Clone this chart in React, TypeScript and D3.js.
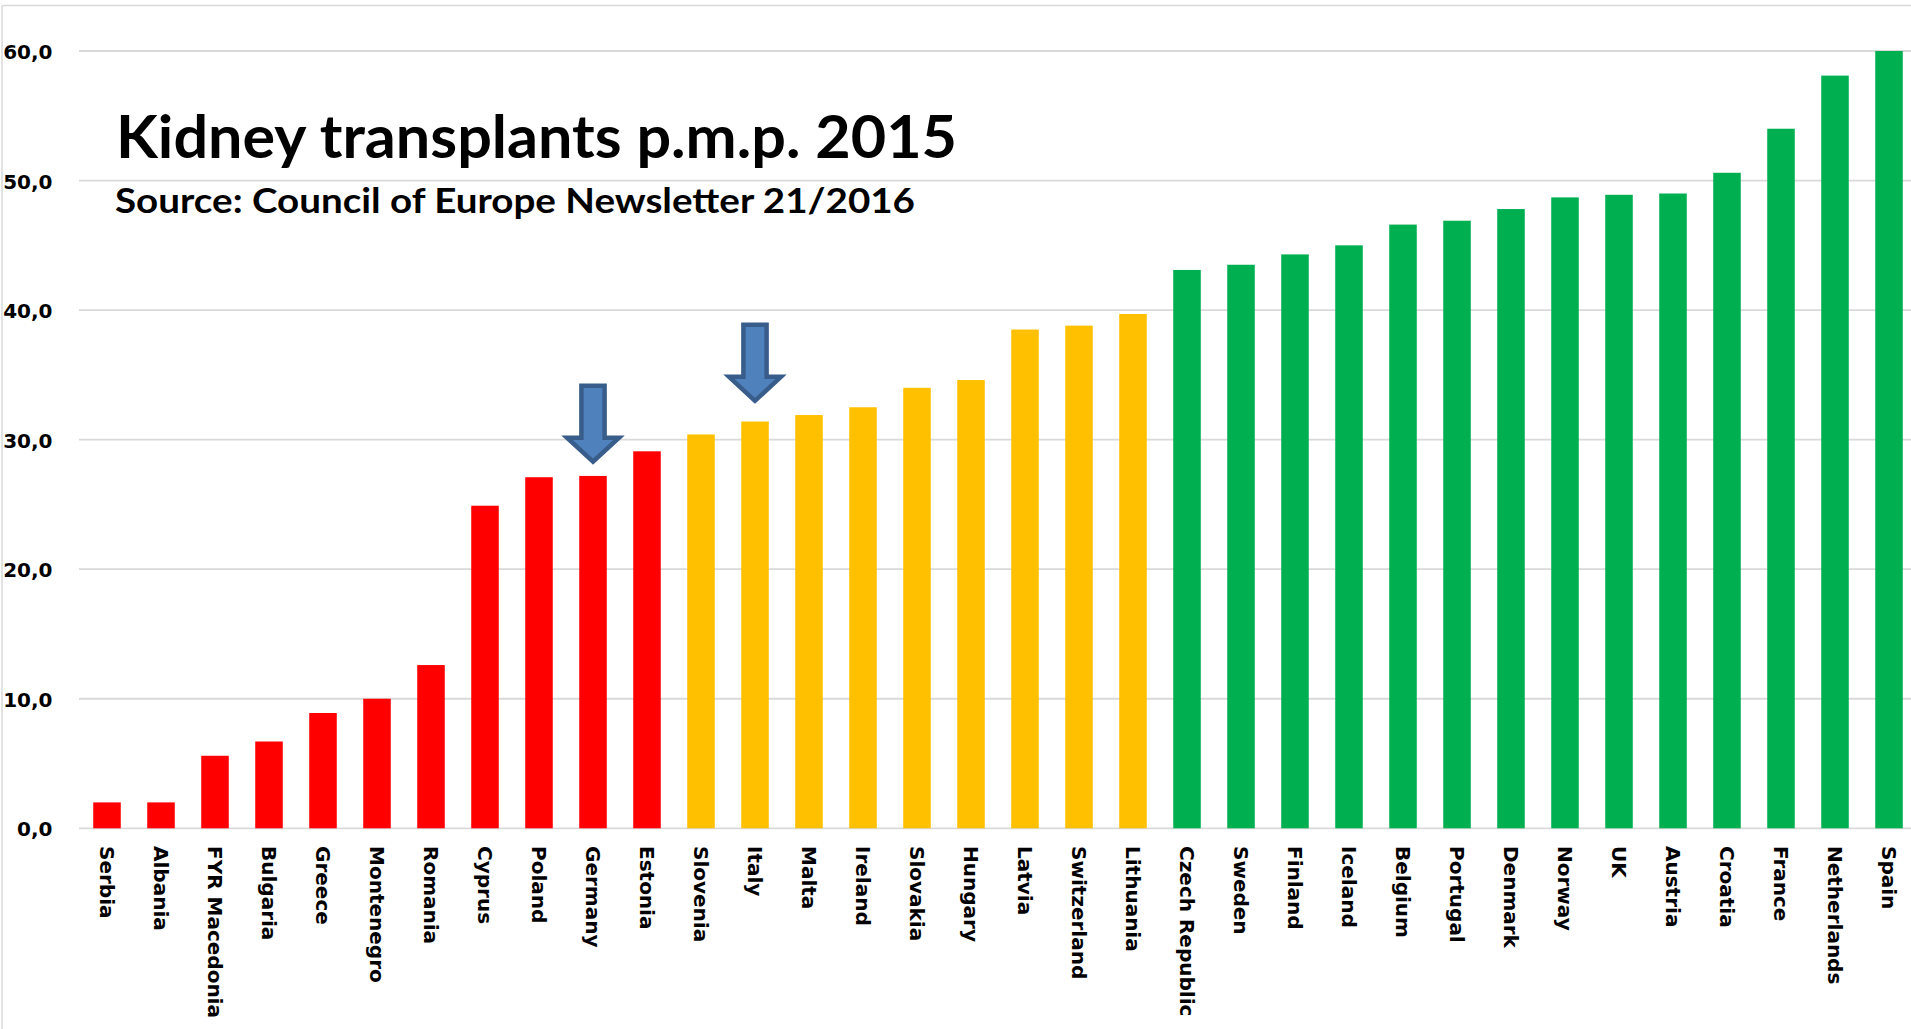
import React from "react";
import * as d3 from "d3";

const countries = [
  "Serbia", "Albania", "FYR Macedonia", "Bulgaria", "Greece", "Montenegro", "Romania",
  "Cyprus", "Poland", "Germany", "Estonia",
  "Slovenia", "Italy", "Malta", "Ireland", "Slovakia", "Hungary", "Latvia", "Switzerland", "Lithuania",
  "Czech Republic", "Sweden", "Finland", "Iceland", "Belgium", "Portugal", "Denmark", "Norway",
  "UK", "Austria", "Croatia", "France", "Netherlands", "Spain",
];

const values = [
  2.0, 2.0, 5.6, 6.7, 8.9, 10.0, 12.6,
  24.9, 27.1, 27.2, 29.1,
  30.4, 31.4, 31.9, 32.5, 34.0, 34.6, 38.5, 38.8, 39.7,
  43.1, 43.5, 44.3, 45.0, 46.6, 46.9, 47.8, 48.7,
  48.9, 49.0, 50.6, 54.0, 58.1, 60.0,
];

const tiers = [
  "low", "low", "low", "low", "low", "low", "low", "low", "low", "low", "low",
  "mid", "mid", "mid", "mid", "mid", "mid", "mid", "mid", "mid",
  "high", "high", "high", "high", "high", "high", "high", "high", "high", "high", "high", "high", "high", "high",
];

const tierColors: Record<string, string> = { low: "#FF0000", mid: "#FFC000", high: "#00B050" };

const yTicks = [0, 10, 20, 30, 40, 50, 60];

const arrowCountries = ["Germany", "Italy"];
const arrowTipValues = [28.3, 33.0];

const title = "Kidney transplants p.m.p. 2015";
const subtitle = "Source: Council of Europe Newsletter 21/2016";

const W = 1911;
const H = 1029;

export default function App() {
  const x = d3.scaleBand<string>().domain(countries).range([80, 1916]).paddingInner(0.49).paddingOuter(0.245);
  const y = d3.scaleLinear().domain([0, 60]).range([828.3, 51]);
  const fmt = (v: number) => d3.format(".1f")(v).replace(".", ",");

  const arrowPath = (cx: number, t: number) => {
    const p = d3.path();
    p.moveTo(cx, t);
    p.lineTo(cx - 26, t - 24);
    p.lineTo(cx - 11.6, t - 24);
    p.lineTo(cx - 11.6, t - 76);
    p.lineTo(cx + 11.6, t - 76);
    p.lineTo(cx + 11.6, t - 24);
    p.lineTo(cx + 26, t - 24);
    p.closePath();
    return p.toString();
  };

  return (
    <svg
      width={W}
      height={H}
      style={{ position: "absolute", left: 0, top: 0, background: "#fff" }}
    >
      <rect x={0} y={0} width={W} height={H} fill="#fff" />
      {/* chart border */}
      <line x1={2} x2={W} y1={5.5} y2={5.5} stroke="#D9D9D9" strokeWidth={1.5} />
      <line x1={2} x2={2} y1={5.5} y2={H} stroke="#D9D9D9" strokeWidth={1.5} />

      {/* gridlines */}
      {yTicks.map((t) => (
        <line key={"g" + t} x1={79} x2={W} y1={y(t)} y2={y(t)} stroke="#D9D9D9" strokeWidth={1.8} />
      ))}

      {/* y labels */}
      {yTicks.map((t) => (
        <text
          key={"yl" + t}
          x={52.5}
          y={y(t)}
          dy="0.4em"
          textAnchor="end"
          fontFamily="DejaVu Sans"
          fontWeight="bold"
          fontSize={20}
          fill="#000"
        >
          {fmt(t)}
        </text>
      ))}

      {/* bars */}
      {countries.map((c, i) => (
        <rect
          key={"b" + c}
          x={x(c)}
          y={y(values[i])}
          width={x.bandwidth()}
          height={y(0) - y(values[i])}
          fill={tierColors[tiers[i]]}
        />
      ))}

      {/* x labels */}
      {countries.map((c) => {
        const cx = (x(c) as number) + x.bandwidth() / 2;
        return (
          <text
            key={"xl" + c}
            transform={`translate(${cx},846) rotate(90)`}
            dy="0.36em"
            textAnchor="start"
            fontFamily="DejaVu Sans"
            fontWeight="bold"
            fontSize={20}
            fill="#000"
          >
            {c}
          </text>
        );
      })}

      {/* arrows */}
      {arrowCountries.map((c, i) => {
        const cx = (x(c) as number) + x.bandwidth() / 2;
        return (
          <path
            key={"a" + c}
            d={arrowPath(cx, y(arrowTipValues[i]))}
            fill="#4F81BD"
            stroke="#385D8A"
            strokeWidth={4.5}
            strokeLinejoin="miter"
          />
        );
      })}

      {/* titles */}
      <text
        x={116}
        y={158}
        fontFamily="Lato"
        fontWeight="bold"
        fontSize={59}
        textLength={841}
        lengthAdjust="spacingAndGlyphs"
        fill="#000"
      >
        {title}
      </text>
      <text
        x={115}
        y={213.3}
        fontFamily="Lato"
        fontWeight="bold"
        fontSize={34}
        textLength={800}
        lengthAdjust="spacingAndGlyphs"
        fill="#000"
      >
        {subtitle}
      </text>
    </svg>
  );
}
